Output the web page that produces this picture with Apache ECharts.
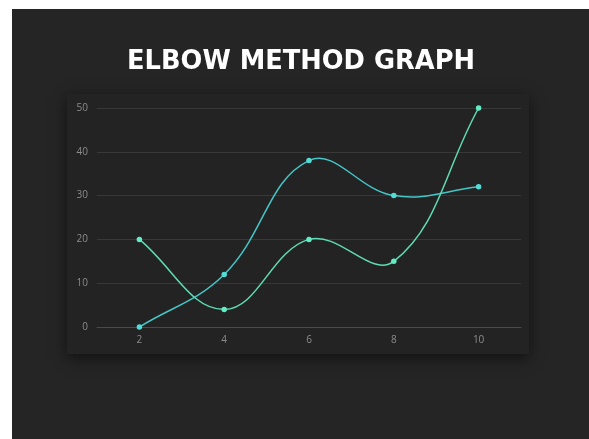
<!DOCTYPE html>
<html>
<head>
<meta charset="utf-8">
<script src="https://cdn.jsdelivr.net/npm/echarts@6/dist/echarts.min.js"></script>
<style>
  html, body { margin: 0; padding: 0; background: #ffffff; }
  #chart { width: 589px; height: 439px; }
</style>
</head>
<body>
<div id="chart"></div>
<script>
// Number of clusters (k) on the x axis
const clusters = ['2', '4', '6', '8', '10'];
// Two curves plotted against k
const seriesA = [0, 12, 38, 30, 32];
const seriesB = [20, 4, 20, 15, 50];
const yTicks = { min: 0, max: 50, interval: 10 };

const TENSION = 0.4;

// Cardinal-style spline through the projected points (tension-based control points)
function splinePath(pts, t) {
  let d = 'M' + pts[0][0] + ',' + pts[0][1];
  const cps = pts.map(function (cur, i) {
    const prev = pts[Math.max(0, i - 1)];
    const next = pts[Math.min(pts.length - 1, i + 1)];
    const d01 = Math.hypot(cur[0] - prev[0], cur[1] - prev[1]);
    const d12 = Math.hypot(next[0] - cur[0], next[1] - cur[1]);
    let s01 = d01 / (d01 + d12), s12 = d12 / (d01 + d12);
    if (isNaN(s01)) s01 = 0;
    if (isNaN(s12)) s12 = 0;
    const fa = t * s01, fb = t * s12;
    return {
      prev: [cur[0] - fa * (next[0] - prev[0]), cur[1] - fa * (next[1] - prev[1])],
      next: [cur[0] + fb * (next[0] - prev[0]), cur[1] + fb * (next[1] - prev[1])]
    };
  });
  for (let i = 1; i < pts.length; i++) {
    const c1 = cps[i - 1].next, c2 = cps[i].prev, p = pts[i];
    d += 'C' + c1[0] + ',' + c1[1] + ' ' + c2[0] + ',' + c2[1] + ' ' + p[0] + ',' + p[1];
  }
  return d;
}

function curveSeries(values, color) {
  return {
    type: 'custom',
    data: [0],
    z: 2,
    renderItem: function (params, api) {
      const pts = values.map(function (v, i) { return api.coord([i, v]); });
      return {
        type: 'path',
        shape: { pathData: splinePath(pts, TENSION) },
        style: { fill: null, stroke: color, lineWidth: 1.5 }
      };
    }
  };
}

function dotSeries(values, color) {
  return {
    type: 'scatter',
    data: values,
    z: 3,
    symbol: 'circle',
    symbolSize: 5.5,
    itemStyle: { color: color, opacity: 1 }
  };
}

const chart = echarts.init(document.getElementById('chart'), null, { renderer: 'canvas' });

chart.setOption({
  backgroundColor: '#ffffff',
  animation: false,
  graphic: [
    { type: 'rect', z: -10, shape: { x: 12, y: 9, width: 577, height: 430 }, style: { fill: '#252525' } },
    { type: 'rect', z: -9, shape: { x: 67, y: 94, width: 462, height: 260 },
      style: { fill: '#232323', shadowBlur: 14, shadowColor: 'rgba(0,0,0,0.55)', shadowOffsetY: 4 } },
    { type: 'text', z: 10, x: 301, y: 62,
      style: { text: 'ELBOW METHOD GRAPH', fill: '#ffffff', font: 'bold 25.7px "DejaVu Sans"',
               textAlign: 'center', textVerticalAlign: 'middle' } }
  ],
  grid: { left: 97, right: 68, top: 108, bottom: 112 },
  xAxis: {
    type: 'category',
    data: clusters,
    boundaryGap: true,
    axisLine: { lineStyle: { color: '#4a4a4a', width: 1 } },
    axisTick: { show: false },
    axisLabel: { color: '#8c8c8c', fontSize: 10, margin: 8, fontFamily: 'Open Sans' }
  },
  yAxis: {
    type: 'value',
    min: yTicks.min, max: yTicks.max, interval: yTicks.interval,
    axisLine: { show: false },
    axisTick: { show: false },
    splitLine: { lineStyle: { color: '#383838', width: 1 } },
    axisLabel: { color: '#8c8c8c', fontSize: 10, margin: 9, fontFamily: 'Open Sans' }
  },
  series: [
    curveSeries(seriesA, '#44c6c6'),
    curveSeries(seriesB, '#5fdcb4'),
    dotSeries(seriesA, '#52dcd6'),
    dotSeries(seriesB, '#62ecc4')
  ]
});
</script>
</body>
</html>
